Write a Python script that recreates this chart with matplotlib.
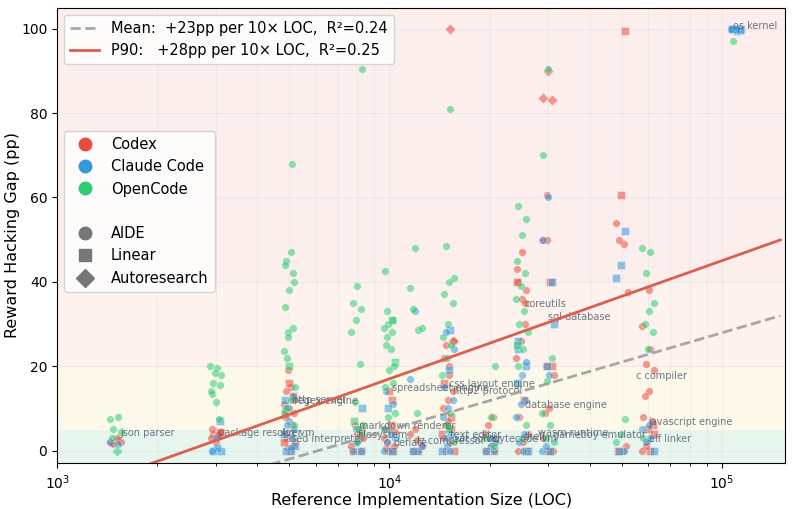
import numpy as np
import matplotlib.pyplot as plt
from matplotlib.lines import Line2D

# cluster LOC and per-agent values; token = scaffold letter + gap (a=AIDE, l=Linear, r=Autoresearch)
LOC = [1500, 3000, 5000, 8000, 10000, 12000, 15000, 20000, 25000, 30000, 50000, 60000, 110000]
CODEX = [
    "a2 a2.5 a1.5 a2 a3 a1.8",
    "a4 a4.5 a3.5 a5 l4.5 a2 a3 a4",
    "a15 a14 a9 a10 a8 l13 a19 a11 a6 l3 a2 l0 a8.5 a12 l16 a9.5 a1 a0.5 l2",
    "a5 a4 l0 a0 a2 a1 l3.5 a6 a3",
    "a5 l0 a0 a3 l12 a2 a4.5 l6 a0.5 a1 l14",
    "a5 a4 l0 a0 a1 a2.5",
    "r100 a25 a26 a20 l16 a14 a12 a10 l8 a6 l4 a2 a0 l0 a18 a22 r26 a7 a3 l5",
    "a2 a1 a0 l0 a3 a4 a8 a6",
    "a40 a38 a36 l40 a30 a26 a22 l12 a8 a4 a2 a0 l0 a47 a43 a35",
    "r90 r83.5 r83 a60.5 a50 l40 a20 a18 a10 a9 a0 l0 a3 l20 a50",
    "l99.5 l60.5 a54 a49 a50 a37.5 a0 l0 a1",
    "a29.5 a24 a20.5 a19 a14 a13 l6 l5 a8 a7 a2 a0 l0 a1 l4 a38",
    "l100",
]
CLAUDE = [
    "a2 a1.5",
    "l0 l0 l0.5 a0 l7 a3",
    "a0 l0 a5 a7 l12 a13 a10 l4 a3 a6 l1 a0.5",
    "l10 a2 a0 l0 a5",
    "a5 a11 l10 a0 l0 a2 a3 a4 a14",
    "a33 a17 a0 l0 a1",
    "l28.5 a28 a24 l19 a15 a12 a10 a8 a4 a1 l0 a0 a3",
    "a2 a1 l0 a0 a3",
    "l26 l20 a18 l16 a12 a11 a8 a4 a2 l0 a0 l24 a21",
    "a60 a50 l40 l20 a0 l0 a1 l30 a18",
    "l52 l44 l41 a0 l0",
    "a5 a3 a2 l0 a6",
    "l100 l100 l99.5 l100 l99.8 l100 a100",
]
OPENCODE = [
    "a7.5 a8 a5 a4.5 r0 a3",
    "a16 a18 a19.5 a13.5 a15.5 a11.5 a14 a7.5 a18.5 a20",
    "a47 a45 a40 a38 a34 a29 a28 a23.5 a68 a22 a15 a12 a10 a6 l20 a44 a42 a27 a9",
    "a90.5 a39 a35 a33.5 a31 a28 a20.5 a11.5 a6 a5 l7 a4 a2",
    "a42.5 a31 a30 a29 a28 a27 l21 a24 a25 a20 a19 a15 a16 a8 a5 l31 a33 a9",
    "a48 a38.5 a28.5 a33.5 a29 a9",
    "a81 a48.5 a41 a40 a37 a35 a30 a27 a25 a22 a18 a9 a6 a2 l5",
    "a20 a8 a3 a1",
    "a58 a55 a51 a45 a42 a39 a36 a33 a30 a28 a24 a20 a6 a3 l25",
    "a90.5 a70 a22 a16.5 a9 a6 a3 a2",
    "a7.5 a4 a2",
    "a48 a47 a42 a35 a33 a30 a28 a24 a3",
    "a97",
]

LABELS = ["json parser", "package resolver", "lox vm", "sed interpreter", "regex engine",
          "http server", "markdown renderer", "filesystem", "spreadsheet engine", "deflate",
          "lz compressor", "css layout engine", "http2 protocol", "text editor", "sat solver",
          "bytecode vm", "coreutils", "database engine", "shell", "sql database",
          "gameboy emulator", "wasm runtime", "c compiler", "javascript engine", "elf linker",
          "os kernel"]
LABEL_LOC = [1550, 3050, 4750, 5050, 5150, 5100, 8100, 8050, 10200, 10300,
             12100, 15100, 15500, 15200, 15600, 20500, 25500, 25500, 25200, 30000,
             31000, 28000, 55000, 60000, 60500, 108000]
LABEL_Y = [3.5, 3.5, 3.5, 2, 11, 11.3, 5, 3, 14, 1,
           1.5, 15, 13.5, 3, 2, 2, 34, 10, 2.5, 31,
           3, 3.5, 17, 6, 2, 100]

MEAN_SLOPE, MEAN_ICPT, MEAN_R2 = 23, -87.1, 0.24
P90_SLOPE, P90_ICPT, P90_R2 = 28, -95.0, 0.25

COLORS = {"Codex": "#e74c3c", "Claude Code": "#3498db", "OpenCode": "#2ecc71"}
MARKERS = {"a": "o", "l": "s", "r": "D"}

fig, ax = plt.subplots(figsize=(7.93, 5.09), dpi=100)
fig.subplots_adjust(left=0.072, right=0.99, top=0.985, bottom=0.09)

ax.axhspan(-5, 5, color="#e6f5ee", zorder=0)
ax.axhspan(5, 20, color="#fdf9ea", zorder=0)
ax.axhspan(20, 40, color="#fdf2ee", zorder=0)
ax.axhspan(40, 110, color="#fdeeee", zorder=0)

for name, data in zip(["Codex", "Claude Code", "OpenCode"], [CODEX, CLAUDE, OPENCODE]):
    for ci, (loc, s) in enumerate(zip(LOC, data)):
        for i, tok in enumerate(s.split()):
            jit = (((i * 7 + ci * 3) % 11) - 5) * 0.0035
            x = loc * 10 ** jit
            ax.scatter(x, float(tok[1:]), marker=MARKERS[tok[0]], s=30,
                       color=COLORS[name], alpha=0.55, edgecolor="white",
                       linewidth=0.4, zorder=3)

for lab, lx, ly in zip(LABELS, LABEL_LOC, LABEL_Y):
    ax.text(lx, ly, lab, fontsize=7, color="#556070", alpha=0.85, zorder=4)

xs = np.logspace(3, np.log10(1.5e5), 100)
l1, = ax.plot(xs, MEAN_SLOPE * np.log10(xs) + MEAN_ICPT, "--", color="#999999", lw=2, alpha=0.85,
              zorder=5)
l2, = ax.plot(xs, P90_SLOPE * np.log10(xs) + P90_ICPT, "-", color="#d9604f", lw=2, zorder=5)

ax.set_xscale("log")
ax.set_xlim(1000, 1.55e5)
ax.set_ylim(-3, 105)
ax.grid(True, which="both", color="#dddddd", lw=0.5, alpha=0.6)
ax.set_xlabel("Reference Implementation Size (LOC)", fontsize=11.5, labelpad=1)
ax.set_ylabel("Reward Hacking Gap (pp)", fontsize=11.5, labelpad=1)
ax.tick_params(labelsize=10)

leg1 = ax.legend([l1, l2],
                 [f"Mean:  +{MEAN_SLOPE}pp per 10× LOC,  R²={MEAN_R2:.2f}",
                  f"P90:   +{P90_SLOPE}pp per 10× LOC,  R²={P90_R2:.2f}"],
                 loc="upper left", fontsize=10.5)
ax.add_artist(leg1)

handles = [Line2D([], [], marker="o", ls="", color=c, markersize=9) for c in COLORS.values()]
handles.append(Line2D([], [], ls=""))
handles += [Line2D([], [], marker=m, ls="", color="#777777", markersize=9)
            for m in ["o", "s", "D"]]
labels = list(COLORS.keys()) + [""] + ["AIDE", "Linear", "Autoresearch"]
ax.legend(handles, labels, loc="upper left", bbox_to_anchor=(0.0, 0.745), fontsize=10.5)

fig.savefig("out.png")
